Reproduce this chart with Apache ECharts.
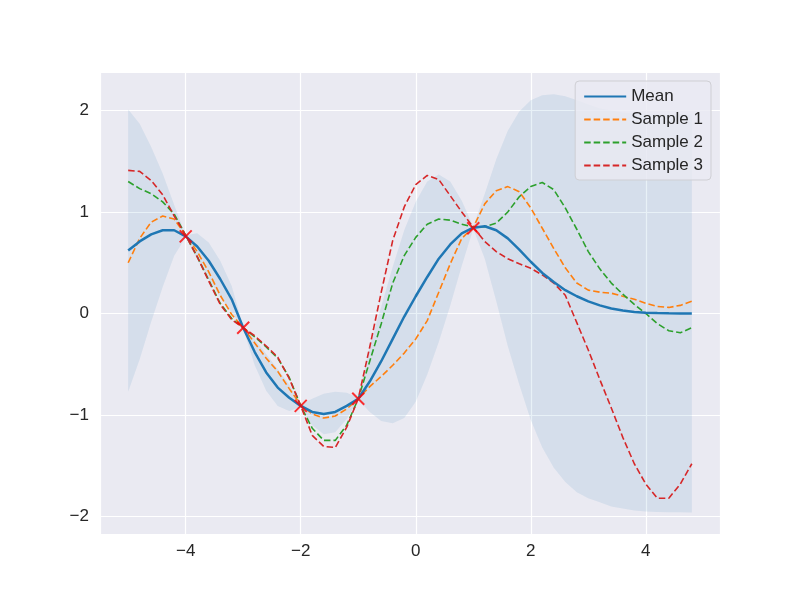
<!DOCTYPE html>
<html><head><meta charset="utf-8">
<script src="https://cdn.jsdelivr.net/npm/echarts@6/dist/echarts.min.js"></script>
<style>html,body{margin:0;padding:0;background:#fff}#c{width:800px;height:600px}</style>
</head><body><div id="c"></div>
<script>
const xs = [-5,-4.8,-4.6,-4.4,-4.2,-4,-3.8,-3.6,-3.4,-3.2,-3,-2.8,-2.6,-2.4,-2.2,-2,-1.8,-1.6,-1.4,-1.2,
  -1,-0.8,-0.6,-0.4,-0.2,0,0.2,0.4,0.6,0.8,1,1.2,1.4,1.6,1.8,2,2.2,2.4,2.6,2.8,3,3.2,3.4,3.6,3.8,4,4.2,4.4,4.6,4.8];
const meanVals = [0.62,0.71,0.78,0.82,0.82, 0.76,0.66,0.52,0.34,0.14, -0.14,-0.38,-0.58,-0.73,-0.83,
  -0.91,-0.97,-0.99,-0.97,-0.91, -0.84,-0.67,-0.47,-0.25,-0.03, 0.17,0.36,0.54,0.68,0.79,
  0.845,0.86,0.82,0.74,0.63, 0.51,0.40,0.31,0.23,0.17, 0.12,0.08,0.05,0.03,0.015, 0.008,0.004,0.002,0.001,0.0];
const upperVals = [2.01,1.87,1.64,1.38,1.07, 0.77,0.79,0.70,0.52,0.27, -0.13,-0.25,-0.40,-0.55,-0.70,
  -0.90,-0.84,-0.79,-0.77,-0.78, -0.83,-0.32,0.07,0.46,0.82, 1.10,1.30,1.37,1.30,1.11,
  0.855,1.18,1.52,1.80,1.99, 2.10,2.15,2.16,2.14,2.10, 2.06,2.02,2.00,1.98,1.97, 1.965,1.962,1.96,1.96,1.96];
const lowerVals = [-0.77,-0.45,-0.08,0.26,0.57, 0.75,0.53,0.34,0.16,0.01, -0.15,-0.51,-0.76,-0.91,-0.96,
  -0.92,-1.10,-1.19,-1.17,-1.04, -0.85,-0.97,-1.06,-1.08,-1.03, -0.87,-0.60,-0.28,0.08,0.47,
  0.835,0.54,0.12,-0.32,-0.70, -1.05,-1.32,-1.52,-1.66,-1.76, -1.82,-1.86,-1.90,-1.92,-1.94, -1.95,-1.955,-1.957,-1.958,-1.96];
const sample1 = [0.50,0.74,0.90,0.96,0.93, 0.77,0.61,0.41,0.18,-0.01, -0.14,-0.29,-0.44,-0.57,-0.74,
  -0.90,-0.99,-1.03,-1.01,-0.94, -0.84,-0.72,-0.62,-0.51,-0.39, -0.25,-0.07,0.21,0.49,0.74,
  0.85,1.08,1.21,1.25,1.20, 1.04,0.84,0.64,0.45,0.30, 0.23,0.21,0.20,0.17,0.14, 0.10,0.07,0.06,0.08,0.12];
const sample2 = [1.30,1.23,1.18,1.10,0.98, 0.77,0.56,0.33,0.10,-0.05, -0.14,-0.23,-0.33,-0.44,-0.63,
  -0.91,-1.13,-1.25,-1.25,-1.10, -0.84,-0.47,-0.10,0.30,0.57, 0.75,0.88,0.93,0.92,0.88,
  0.85,0.855,0.89,1.00,1.15, 1.25,1.29,1.22,1.04,0.83, 0.61,0.44,0.30,0.19,0.09, 0.00,-0.10,-0.17,-0.19,-0.14];
const sample3 = [1.41,1.40,1.31,1.17,0.96, 0.77,0.56,0.32,0.09,-0.06, -0.14,-0.22,-0.32,-0.43,-0.64,
  -0.91,-1.20,-1.31,-1.32,-1.12, -0.84,-0.33,0.21,0.72,1.05, 1.27,1.36,1.32,1.16,1.00,
  0.85,0.71,0.61,0.54,0.49, 0.445,0.38,0.30,0.18,-0.09, -0.36,-0.65,-0.93,-1.22,-1.48, -1.68,-1.82,-1.82,-1.68,-1.48];
const trainX = [-4,-3,-2,-1,1];
const trainY = [0.76,-0.14,-0.91,-0.84,0.84];
const xTicks = [-4,-2,0,2,4];
const yTicks = [-2,-1,0,1,2];

const pair = arr => xs.map((x,i)=>[x, arr[i]]);
const fmt = (ticks) => (v) => ticks.some(t => Math.abs(t - v) < 1e-9) ? String(Math.round(v)).replace('-', '\u2212') : '';
const font = 'Liberation Sans';
const dashed = (name, color, arr) => ({
  name, type:'line', data: pair(arr), symbol:'none', smooth:false, z:3,
  lineStyle:{color, width:1.6, type:[6.5,3]}, itemStyle:{color}
});

const chart = echarts.init(document.getElementById('c'), null, {renderer:'canvas'});
chart.setOption({
  animation:false,
  backgroundColor:'#ffffff',
  grid:{left:100, right:80, top:72, bottom:66, show:true, backgroundColor:'#EAEAF2', borderWidth:0},
  xAxis:{type:'value', min:-5.49, max:5.29, splitNumber:5,
    axisLine:{show:false}, axisTick:{show:false},
    splitLine:{show:true, lineStyle:{color:'#ffffff', width:1.2}},
    axisLabel:{formatter: fmt(xTicks), showMinLabel:false, showMaxLabel:false, color:'#262626', fontSize:17, fontFamily:font, margin:9}},
  yAxis:{type:'value', min:-2.172, max:2.379, splitNumber:5,
    axisLine:{show:false}, axisTick:{show:false},
    splitLine:{show:true, lineStyle:{color:'#ffffff', width:1.2}},
    axisLabel:{formatter: fmt(yTicks), showMinLabel:false, showMaxLabel:false, color:'#262626', fontSize:17, fontFamily:font, margin:11}},
  legend:{data:['Mean','Sample 1','Sample 2','Sample 3'], orient:'vertical', right:89, top:81,
    padding:[7,8,6,8], itemGap:6, itemWidth:42, itemHeight:14,
    itemStyle:{opacity:0},
    backgroundColor:'rgba(234,234,242,0.8)', borderColor:'#cfcfd4', borderWidth:1, borderRadius:4,
    textStyle:{fontSize:17, color:'#262626', fontFamily:font}},
  series:[
    {name:'band', type:'custom', data:[[0]], silent:true, z:1, clip:true,
     renderItem:(params, api) => {
       const pts = [];
       for (let i = 0; i < xs.length; i++) pts.push(api.coord([xs[i], upperVals[i]]));
       for (let i = xs.length - 1; i >= 0; i--) pts.push(api.coord([xs[i], lowerVals[i]]));
       return {type:'polygon', shape:{points:pts}, style:{fill:'rgba(31,119,180,0.1)'}};
     }},
    {name:'Mean', type:'line', data: pair(meanVals), symbol:'none', smooth:false, z:4,
     lineStyle:{color:'#1f77b4', width:2.5}, itemStyle:{color:'#1f77b4'}},
    dashed('Sample 1', '#ff7f0e', sample1),
    dashed('Sample 2', '#2ca02c', sample2),
    dashed('Sample 3', '#d62728', sample3),
    {name:'train', type:'scatter', data: trainX.map((x,i)=>[x, trainY[i]]), z:6,
     symbol:'path://M0,0L10,10M10,0L0,10', symbolSize:12,
     itemStyle:{color:'rgba(0,0,0,0)', borderColor:'#ff0000', borderWidth:2}}
  ]
});
</script></body></html>
